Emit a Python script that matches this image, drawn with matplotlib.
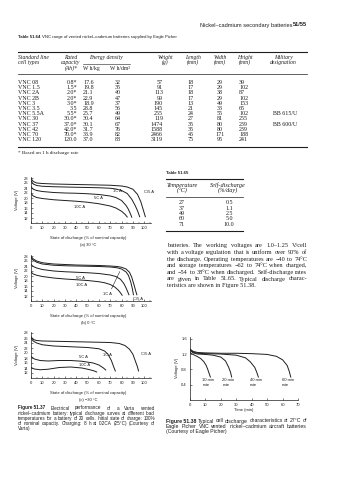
import matplotlib.pyplot as plt
from matplotlib.lines import Line2D
from matplotlib.ticker import MultipleLocator

W, H = 338, 480
INK = '#1e1e1e'
SERIF = 'Liberation Serif'
SANS = 'Liberation Sans'

# ---- Table 51.64 ----
cell_types = ['VNC 08', 'VNC 1.5', 'VNC 2A', 'VNC 2B', 'VNC 3', 'VNC 3.5',
              'VNC 5.5A', 'VNC 30', 'VNC 37', 'VNC 42', 'VNC 70', 'VNC 120']
capacity = ['0.8*', '1.5*', '2.0*', '2.0*', '3.0*', '3.5', '5.5*', '30.0*',
            '37.0*', '42.0*', '70.0*', '120.0']
wh_kg = ['17.6', '19.8', '21.1', '22.9', '18.9', '28.8', '25.7', '30.4',
         '30.1', '31.7', '33.9', '37.0']
wh_dm3 = ['32', '35', '40', '47', '37', '56', '49', '64', '67', '76', '82', '88']
weight = ['57', '91', '113', '99', '190', '145', '255', '119', '1474', '1588',
          '2466', '3119']
length = ['18', '17', '18', '17', '13', '21', '24', '27', '35', '35', '45', '75']
width = ['29', '29', '38', '29', '49', '33', '55', '81', '80', '80', '171', '95']
height = ['39', '102', '87', '102', '153', '65', '102', '255', '239', '239',
          '188', '241']
military = ['', '', '', '', '', '', 'BB 615/U', '', 'BB 600/U', '', '', '']

# ---- Table 51.65 ----
temps = ['27', '37', '49', '60', '71']
self_discharge = ['0.5', '1.1', '2.5', '5.0', '10.0']

# ---- Figure 51.37 (voltage vs state of discharge) ----
soc_30_c5 = [0, 2, 5, 10, 20, 30, 40, 50, 60, 70, 80, 85, 90, 94, 97, 99, 101]
v_30_c5 = [27.8, 26.6, 26.0, 25.8, 25.6, 25.5, 25.4, 25.3, 25.2, 25.1, 24.8,
           24.4, 23.5, 21.5, 18.5, 15.5, 12.5]
soc_30_1c = [0, 2, 5, 10, 20, 30, 40, 50, 60, 70, 75, 80, 85, 89, 92, 94, 96]
v_30_1c = [26.8, 25.6, 25.0, 24.7, 24.5, 24.4, 24.3, 24.2, 24.1, 23.9, 23.6,
           23.0, 21.8, 19.5, 17.0, 15.0, 12.5]
soc_30_5c = [0, 2, 5, 10, 20, 30, 40, 50, 60, 70, 75, 80, 84, 86, 88, 89]
v_30_5c = [24.5, 23.5, 23.0, 22.6, 22.2, 22.0, 21.9, 21.7, 21.4, 20.8, 20.2,
           19.0, 17.0, 15.5, 13.5, 12.3]
soc_30_10c = [0, 2, 5, 10, 20, 30, 40, 50, 60, 70, 75, 80, 83, 85]
v_30_10c = [21.8, 20.8, 20.2, 19.8, 19.3, 19.0, 18.7, 18.3, 17.7, 16.8, 16.0,
            14.7, 13.5, 12.4]

soc_0_c5 = [0, 2, 5, 10, 20, 30, 40, 50, 60, 70, 76, 80, 84, 87, 89, 91, 92.5, 93.5]
v_0_c5 = [27.9, 26.8, 26.0, 25.3, 24.8, 24.6, 24.4, 24.3, 24.2, 24.0, 23.8,
          23.5, 22.8, 21.5, 19.5, 16.5, 14.0, 12.5]
soc_0_1c = [0, 2, 5, 10, 20, 30, 40, 50, 60, 70, 76, 80, 84, 86, 88, 89.5, 90.5]
v_0_1c = [27.3, 26.3, 25.5, 24.8, 24.3, 24.1, 24.0, 23.9, 23.8, 23.6, 23.3,
          22.8, 21.6, 20.3, 17.8, 15.0, 12.5]
soc_0_5c = [0, 2, 5, 10, 20, 30, 40, 50, 60, 70, 75, 79, 82, 84, 85.5, 86.5]
v_0_5c = [24.6, 23.8, 23.2, 22.6, 22.0, 21.7, 21.5, 21.3, 21.0, 20.4, 19.8,
          18.7, 17.0, 15.2, 13.6, 12.5]
soc_0_10c = [0, 2, 5, 10, 20, 30, 40, 50, 60, 65, 70, 74, 77, 79, 80.5]
v_0_10c = [21.6, 20.8, 20.3, 19.8, 19.2, 18.8, 18.5, 18.2, 17.7, 17.3, 16.6,
           15.6, 14.4, 13.3, 12.3]

soc_m30_c5 = [0, 2, 5, 10, 20, 30, 40, 50, 60, 70, 78, 83, 87, 90, 92, 94, 95]
v_m30_c5 = [26.5, 25.4, 25.0, 24.8, 24.7, 24.6, 24.5, 24.4, 24.3, 24.2, 23.8,
            23.0, 21.5, 19.5, 17.0, 14.5, 12.8]
soc_m30_1c = [0, 2, 5, 10, 20, 30, 40, 50, 60, 65, 68, 71, 73, 74.5]
v_m30_1c = [25.8, 24.8, 24.0, 23.3, 22.8, 22.6, 22.4, 22.2, 21.7, 20.8, 19.5,
            17.0, 14.5, 12.8]
soc_m30_5c = [0, 3, 8, 15, 25, 35, 45, 55, 60, 64, 66]
v_m30_5c = [18.6, 17.6, 17.0, 16.8, 17.0, 17.0, 16.7, 16.0, 15.2, 14.0, 13.2]
soc_m30_10c = [0, 3, 8, 15, 25, 35, 45, 52, 56, 58]
v_m30_10c = [14.2, 13.6, 13.3, 13.5, 14.2, 14.4, 14.0, 13.3, 12.8, 12.4]

# ---- Figure 51.38 (cell voltage vs time) ----
t_10 = [0, 1, 3, 5, 7, 9, 10.5, 11.5, 12.5, 13.2]
v_10 = [1.24, 1.21, 1.17, 1.13, 1.08, 1.0, 0.9, 0.8, 0.68, 0.6]
t_20 = [0, 2, 5, 10, 15, 20, 23, 25, 26.3, 27]
v_20 = [1.3, 1.23, 1.2, 1.19, 1.17, 1.12, 1.02, 0.86, 0.72, 0.6]
t_40 = [0, 2, 5, 10, 20, 30, 36, 39, 42, 43.3, 44.3]
v_40 = [1.31, 1.25, 1.22, 1.21, 1.2, 1.17, 1.1, 1.0, 0.85, 0.72, 0.6]
t_60 = [0, 2, 5, 10, 20, 30, 40, 50, 56, 60, 63, 64.3, 65.3]
v_60 = [1.33, 1.27, 1.24, 1.23, 1.22, 1.22, 1.21, 1.19, 1.14, 1.05, 0.9, 0.75, 0.6]

fig = plt.figure(figsize=(W / 100, H / 100), dpi=100)
fig.patch.set_facecolor('white')
renderer = fig.canvas.get_renderer()


def put(x, y, s, **kw):
    kw.setdefault('color', INK)
    kw.setdefault('va', 'center')
    return fig.text(x / W, 1 - y / H, s, **kw)


def text_width(s, **kw):
    t = fig.text(0, 0, s, **kw)
    w = t.get_window_extent(renderer).width
    t.remove()
    return w


def fit_size(lines, span, **kw):
    # font size at which the widest line just fills the span
    base = 4.0
    widest = max(text_width(s, fontsize=base, **kw) for s in lines)
    return base * span / widest


def rule(x0, x1, y, lw=0.5, color=INK):
    fig.add_artist(Line2D([x0 / W, x1 / W], [1 - y / H, 1 - y / H],
                          lw=lw, color=color))


def justify(line, x0, x1, y, lead='', **kw):
    # spread words across x0..x1; an optional bold lead stays one token
    words = line.split()
    styles = [kw] * len(words)
    if lead:
        words = [lead] + words
        styles = [dict(kw, fontweight='bold')] + styles
    widths = [text_width(w_, **st) for w_, st in zip(words, styles)]
    gap = (x1 - x0 - sum(widths)) / (len(words) - 1)
    x = x0
    for w_, wd, st in zip(words, widths, styles):
        put(x, y, w_, **st)
        x += wd + gap


# ---- running header ----
hs = fit_size(['Nickel\u2013cadmium secondary batteries'], 92, family=SANS)
put(307, 25, '51/55', ha='right', fontweight='bold', family=SANS, fontsize=hs)
put(293, 25, 'Nickel\u2013cadmium secondary batteries', ha='right',
    family=SANS, fontsize=hs)

# ---- Table 51.64 ----
cap_rest = 'VNC range of vented nickel\u2013cadmium batteries supplied by Eagle Picher'
cap = dict(family=SANS, fontsize=fit_size(['Table 51.64 ' + cap_rest], 157, family=SANS))
put(18, 37, 'Table 51.64', fontweight='bold', **cap)
put(18 + text_width('Table 51.64 ', fontweight='bold', **cap), 37, cap_rest, **cap)

rule(18, 307, 51.5, lw=0.8)
hi = dict(family=SERIF, fontsize=4.1, style='italic')
put(18, 57.5, 'Standard line', **hi)
put(18, 62.5, 'cell types', **hi)
put(71, 57.5, 'Rated', ha='center', **hi)
put(71, 62.5, 'capacity', ha='center', **hi)
put(71, 68, '(Ah)*', ha='center', **hi)
put(106, 57.5, 'Energy density', ha='center', **hi)
rule(83, 130, 63.5, lw=0.4)
put(83, 68.5, 'W h/kg', family=SERIF, fontsize=4.1)
put(110, 68.5, 'W h/dm\u00b3', family=SERIF, fontsize=4.1)
for cx, top, bot in [(165, 'Weight', '(g)'), (193, 'Length', '(mm)'),
                     (220, 'Width', '(mm)'), (245, 'Height', '(mm)'),
                     (283, 'Military', 'designation')]:
    put(cx, 57.5, top, ha='center', **hi)
    put(cx, 62.5, bot, ha='center', **hi)
rule(18, 307, 74, lw=0.5)

bd = dict(family=SERIF, fontsize=4.3)
for i in range(len(cell_types)):
    y = 82.5 + i * 5.2
    put(18, y, cell_types[i], **bd)
    put(77, y, capacity[i], ha='right', **bd)
    put(83, y, wh_kg[i], **bd)
    put(115, y, wh_dm3[i], **bd)
    put(163, y, weight[i], ha='right', **bd)
    put(191, y, length[i], ha='center', **bd)
    put(220, y, width[i], ha='center', **bd)
    put(239, y, height[i], **bd)
    put(273, y, military[i], **bd)
rule(18, 307, 146.5, lw=0.8)
put(18, 153, '* Based on 1 h discharge rate', family=SERIF, fontsize=3.7)

# ---- Table 51.65 ----
put(166, 173, 'Table 51.65', fontweight='bold', **cap)
rule(166, 243, 179, lw=0.8)
hi2 = dict(hi, fontsize=4.5)
put(182, 185, 'Temperature', ha='center', **hi2)
put(182, 190.5, '(\u00b0C)', ha='center', **hi2)
put(228, 185, 'Self-discharge', ha='center', **hi2)
put(228, 190.5, '(%/day)', ha='center', **hi2)
rule(166, 243, 196.5, lw=0.5)
for i in range(len(temps)):
    y = 202.5 + i * 5.5
    put(182, y, temps[i], ha='center', **bd)
    put(229, y, self_discharge[i], ha='center', **bd)
rule(166, 243, 231, lw=0.8)

# ---- body paragraph ----
para = ['batteries. The working voltages are 1.0\u20131.25 V/cell',
        'with a voltage regulation that is uniform over 90% of',
        'the discharge. Operating temperatures are \u221240 to 74\u00b0C',
        'and storage temperatures \u221262 to 74\u00b0C when charged,',
        'and \u221254 to 38\u00b0C when discharged. Self-discharge rates',
        'are given in Table 51.65. Typical discharge charac-']
pf = dict(family=SERIF, fontsize=fit_size(para, 137, family=SERIF))
for i, line in enumerate(para):
    justify(line, 167, 307, 246 + i * 6.6, **pf)
put(167, 246 + 6 * 6.6, 'teristics are shown in Figure 51.38.', **pf)

# ---- Figure 51.37 panels ----
tick_font = dict(family=SANS, fontsize=3.0)
panels = [
    (178, '(a) 30 \u00b0C',
     [(soc_30_c5, v_30_c5), (soc_30_1c, v_30_1c), (soc_30_5c, v_30_5c), (soc_30_10c, v_30_10c)],
     [('C/5 A', 100, 22.5), ('1C A', 72, 22.6), ('5C A', 56, 19.9), ('10C A', 38, 16.6)]),
    (256, '(b) 0 \u00b0C',
     [(soc_0_c5, v_0_c5), (soc_0_1c, v_0_1c), (soc_0_5c, v_0_5c), (soc_0_10c, v_0_10c)],
     [('C/5 A', 90, 10.8), ('1C A', 64, 12.8), ('5C A', 40, 19.3), ('10C A', 40, 16.2)]),
    (333, '(c) \u221230 \u00b0C',
     [(soc_m30_c5, v_m30_c5), (soc_m30_1c, v_m30_1c), (soc_m30_5c, v_m30_5c), (soc_m30_10c, v_m30_10c)],
     [('C/5 A', 97, 19.5), ('1C A', 64, 19.3), ('5C A', 42, 18.6), ('10C A', 42, 15.3)]),
]
for y28, sub, curves, labels in panels:
    top = y28 - 1.5
    bottom = y28 + 45
    ax = fig.add_axes([31 / W, 1 - bottom / H, 120 / W, (bottom - top) / H])
    for xs, ys in curves:
        ax.plot(xs, ys, color=INK, lw=0.7)
    for s, x, y in labels:
        ax.text(x, y, s, color=INK, va='center', **tick_font)
    if sub.startswith('(b)'):
        ax.annotate('', xy=(79.5, 22.8), xytext=(70, 13.8),
                    arrowprops=dict(arrowstyle='-', color=INK, lw=0.4))
    ax.set_xlim(0, 106)
    ax.set_ylim(10, 28.6)
    ax.set_xticks(range(0, 101, 10))
    ax.xaxis.set_minor_locator(MultipleLocator(5))
    ax.set_yticks(range(12, 29, 2))
    ax.spines[['top', 'right']].set_visible(False)
    for sp in ax.spines.values():
        sp.set_linewidth(0.5)
        sp.set_color(INK)
    ax.tick_params(direction='in', length=1.4, width=0.4, pad=2.2,
                   colors=INK, labelsize=3.0)
    ax.tick_params(which='minor', direction='in', length=0.9, width=0.3)
    for lab in ax.get_xticklabels() + ax.get_yticklabels():
        lab.set_family(SANS)
    ax.set_facecolor('none')
    put(17, (top + bottom) / 2, 'Voltage (V)', rotation=90, ha='center', **tick_font)
    put(88, bottom + 15, 'State of discharge (% of nominal capacity)', ha='center', **tick_font)
    put(88, bottom + 22, sub, ha='center', **tick_font)

cap37 = ['Figure 51.37 Electrical performance of a Varta vented',
         'nickel\u2013cadmium battery: typical discharge curves at different load',
         'temperatures for a battery of 20 cells. Initial state of charge: 100%',
         'of nominal capacity. Charging: 8 h at 0.2CA (25\u00b0C) (Courtesy of']
cf = dict(family=SANS, fontsize=fit_size(cap37, 134, family=SANS))
for i, line in enumerate(cap37):
    if i == 0:
        justify(line.replace('Figure 51.37 ', ''), 18, 155, 408, lead='Figure 51.37', **cf)
    else:
        justify(line, 18, 155, 408 + i * 5.2, **cf)
put(18, 408 + 4 * 5.2, 'Varta)', **cf)

# ---- Figure 51.38 ----
ax = fig.add_axes([190 / W, 1 - 400 / H, 108 / W, 63.2 / H])
for xs, ys in [(t_10, v_10), (t_20, v_20), (t_40, v_40), (t_60, v_60)]:
    ax.plot(xs, ys, color=INK, lw=0.7)
for s, x in [('10 min', 8), ('20 min', 21), ('40 min', 39), ('60 min', 59.5)]:
    ax.text(x, 0.52, s, color=INK, va='center', **tick_font)
    ax.text(x, 0.38, 'rate', color=INK, va='center', **tick_font)
ax.set_xlim(0, 70)
ax.set_ylim(0, 1.65)
ax.set_xticks(range(0, 71, 10))
ax.set_yticks([0.4, 0.8, 1.2, 1.6])
ax.spines[['top', 'right']].set_visible(False)
for sp in ax.spines.values():
    sp.set_linewidth(0.5)
    sp.set_color(INK)
ax.tick_params(direction='in', length=1.4, width=0.4, pad=2.2,
               colors=INK, labelsize=3.0)
for lab in ax.get_xticklabels() + ax.get_yticklabels():
    lab.set_family(SANS)
ax.set_facecolor('none')
put(177, 368, 'Voltage (V)', rotation=90, ha='center', **tick_font)
put(244, 410, 'Time (min)', ha='center', **tick_font)

cap38 = ['Figure 51.38 Typical cell discharge characteristics at 27\u00b0C of',
         'Eagle Picher VNC vented nickel\u2013cadmium aircraft batteries']
cf38 = dict(family=SANS, fontsize=fit_size(cap38, 137, family=SANS))
justify(cap38[0].replace('Figure 51.38 ', ''), 166, 307, 421, lead='Figure 51.38', **cf38)
justify(cap38[1], 166, 307, 421 + 5.2, **cf38)
put(166, 421 + 2 * 5.2, '(Courtesy of Eagle Picher)', **cf38)

fig.savefig('out.png', dpi=100)
